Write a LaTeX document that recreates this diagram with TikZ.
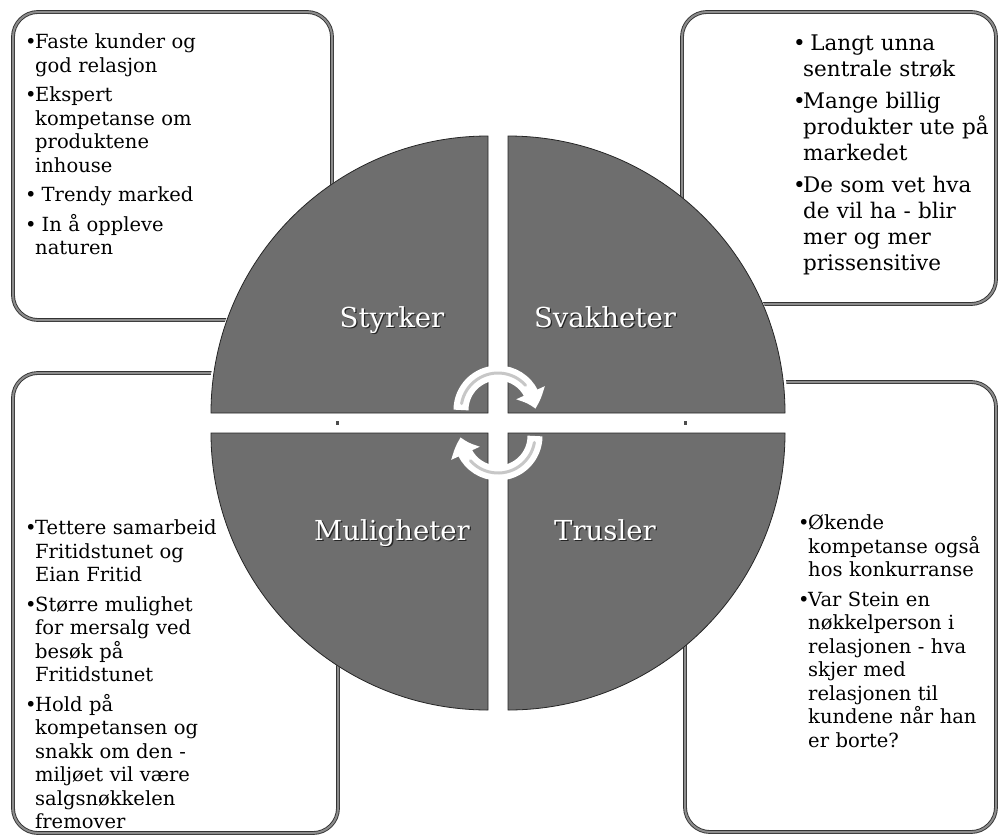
\documentclass[tikz,border=0pt]{standalone}
\usepackage{fontspec}
\setmainfont{DejaVu Serif}
\usetikzlibrary{arrows.meta,bending}

\tikzset{
  panel/.style={rounded corners=25pt, draw=black!80, double=black!45, double distance=2pt, line width=0.9pt, fill=white},
  quarter/.style={fill=black!57, draw=black!85, line width=0.8pt},
  bodytext/.style={anchor=north west, inner sep=0pt, text width=280pt,
    font=\fontsize{19.5}{23.5}\selectfont, execute at begin node={\setlength{\parskip}{6pt}\let\\\newline}},
  quadtext/.style={anchor=base, inner sep=0pt, font=\fontsize{27.5}{30}\selectfont},
  cyclearrow/.style={white, line width=15pt, -{Triangle[width=30pt,length=17pt,bend]}},
  cyclestripe/.style={black!22, line width=3pt, line cap=round}
}
% one bullet point with hanging indent
\newcommand{\itm}{\par\hangindent=10pt\hangafter=1\noindent\makebox[10pt][l]{\textbullet}}
% white label with a dark shadow
\newcommand{\quadlabel}[4]{%
  \node[quadtext, text=black!85] (#1s) at (#2+1.3,#3+1.3) {#4};
  \node[quadtext, text=white] (#1) at (#2,#3) {#4};}

\begin{document}
\begin{tikzpicture}[x=1pt, y=-1pt]
\useasboundingbox (0,0) rectangle (998,836);

% text panels behind the wheel
\draw[panel] (13,12) rectangle (332,320);
\draw[panel] (682,12) rectangle (996,304);
\draw[panel] (13,373) rectangle (338,833);
\draw[panel] (685,382) rectangle (996,832);

% wheel
\fill[white] (498,423) circle[radius=291];
\draw[quarter] (488,413) -- (211,413) arc[start angle=180, end angle=270, radius=277] -- cycle;
\draw[quarter] (508,413) -- (508,136) arc[start angle=270, end angle=360, radius=277] -- cycle;
\draw[quarter] (508,433) -- (785,433) arc[start angle=0, end angle=90, radius=277] -- cycle;
\draw[quarter] (488,433) -- (488,710) arc[start angle=90, end angle=180, radius=277] -- cycle;
\fill[black!70] (336,421) rectangle (339,425);
\fill[black!70] (684,421) rectangle (687,425);

% cycle arrows in the middle
\draw[cyclearrow] (461,410) arc[start angle=180, end angle=358, radius=37];
\draw[cyclestripe] (498,410) ++(190:37) arc[start angle=190, end angle=318, radius=37];
\draw[cyclearrow] (535,436) arc[start angle=0, end angle=178, radius=37];
\draw[cyclestripe] (498,436) ++(10:37) arc[start angle=10, end angle=138, radius=37];

\quadlabel{styrker}{392}{327}{Styrker}
\quadlabel{svakheter}{605}{327}{Svakheter}
\quadlabel{muligheter}{392}{540}{Muligheter}
\quadlabel{trusler}{605}{540}{Trusler}

\node[bodytext] (strengths) at (25,19) {\itm Faste kunder og\\ god relasjon
  \itm Ekspert\\ kompetanse om\\ produktene\\ inhouse
  \itm\ Trendy marked
  \itm\ In å oppleve\\ naturen\par};
\node[bodytext, font=\fontsize{21.5}{26}\selectfont] (weaknesses) at (793,18) {\itm\ Langt unna\\ sentrale strøk
  \itm Mange billig\\ produkter ute på\\ markedet
  \itm De som vet hva\\ de vil ha - blir\\ mer og mer\\ prissensitive\par};
\node[bodytext] (chances) at (25,505) {\itm Tettere samarbeid\\ Fritidstunet og\\ Eian Fritid
  \itm Større mulighet\\ for mersalg ved\\ besøk på\\ Fritidstunet
  \itm Hold på\\ kompetansen og\\ snakk om den -\\ miljøet vil være\\ salgsnøkkelen\\ fremover\par};
\node[bodytext] (threats) at (798,500) {\itm Økende\\ kompetanse også\\ hos konkurranse
  \itm Var Stein en\\ nøkkelperson i\\ relasjonen - hva\\ skjer med\\ relasjonen til\\ kundene når han\\ er borte?\par};
\end{tikzpicture}
\end{document}
